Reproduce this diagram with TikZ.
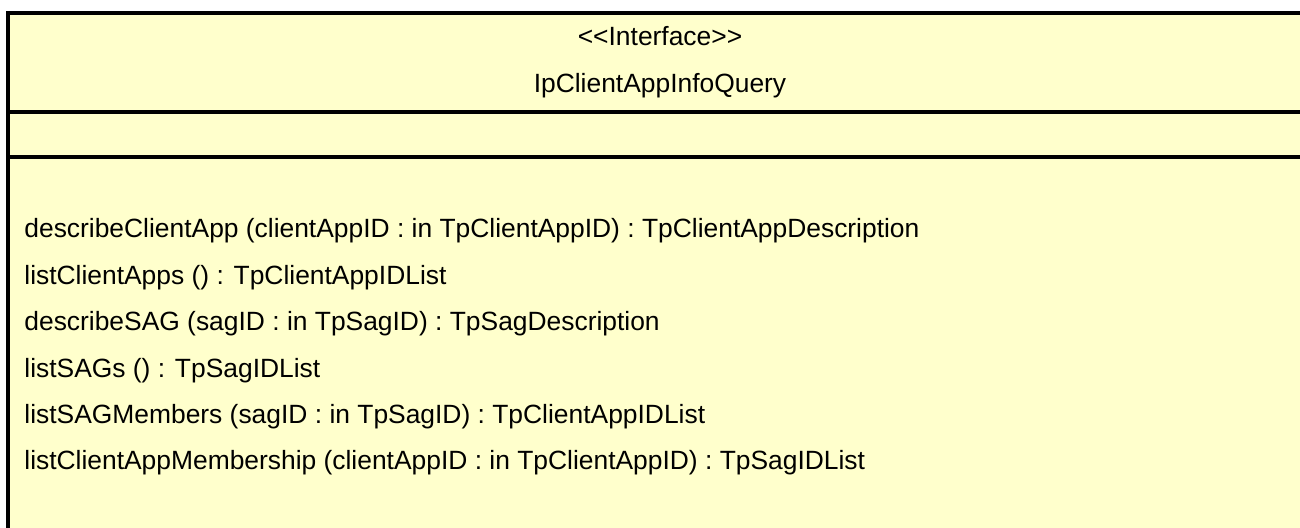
\documentclass[tikz,border=0pt]{standalone}
\usepackage{fontspec}
\setmainfont{Liberation Sans}[Ligatures=TeXOff]
\definecolor{uml}{HTML}{FFFFCC}
\begin{document}
\begin{tikzpicture}[x=0.5pt,y=-0.5pt,
  optext/.style={anchor=base west,inner sep=0pt,font=\fontsize{13.2pt}{15pt}\selectfont},
  titletext/.style={anchor=base,inner sep=0pt,font=\fontsize{13.2pt}{15pt}\selectfont},
  border/.style={line width=2pt,black}]
\useasboundingbox (0,0) rectangle (1300,528);
\fill[uml] (8,13) rectangle (1300,528);
\draw[border] (6,13) -- (1300,13);
\draw[border] (8,11) -- (8,528);
\draw[border] (8,112.5) -- (1300,112.5);
\draw[border] (8,157.5) -- (1300,157.5);
\node[titletext] (st) at (660,46) {<\kern0pt<Interface>\kern0pt>};
\node[titletext] (nm) at (660,93) {IpClientAppInfoQuery};
\node[optext] (o1) at (24,238) {describeClientApp (clientAppID : in TpClientAppID) : TpClientAppDescription};
\node[optext] (o2) at (24,284.4) {listClientApps () : TpClientAppIDList};
\node[optext] (o3) at (24,330.8) {describeSAG (sagID : in TpSagID) : TpSagDescription};
\node[optext] (o4) at (24,377.2) {listSAGs () : TpSagIDList};
\node[optext] (o5) at (24,423.6) {listSAGMembers (sagID : in TpSagID) : TpClientAppIDList};
\node[optext] (o6) at (24,470) {listClientAppMembership (clientAppID : in TpClientAppID) : TpSagIDList};
\end{tikzpicture}
\end{document}
